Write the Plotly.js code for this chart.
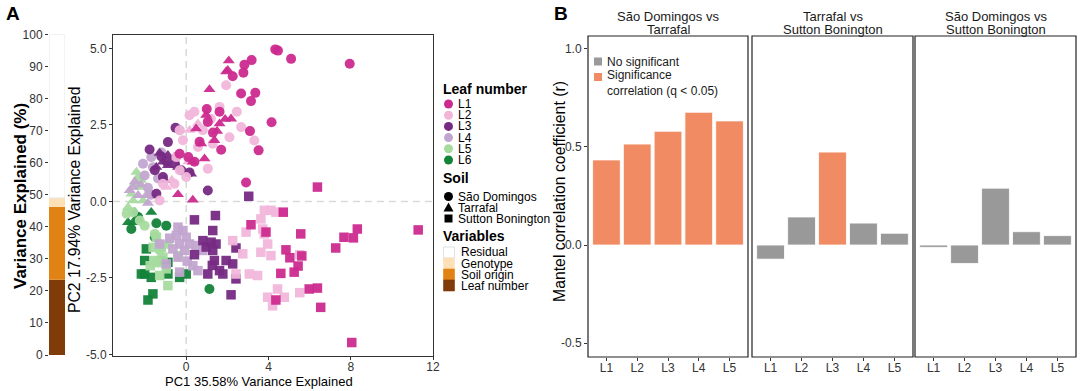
<!DOCTYPE html>
<html><head><meta charset="utf-8">
<script src="https://cdn.plot.ly/plotly-3.0.1.min.js"></script>
<style>html,body{margin:0;padding:0;background:#fff}</style>
</head><body><div id="chart" style="width:1080px;height:391px"></div>
<script>
// ---------- Panel A (left): variance explained ----------
const varCategories = ['Leaf number', 'Soil origin', 'Genotype', 'Residual'];
const varValues = [23.5, 22.7, 2.8, 51.0];
const varTicks = [0, 10, 20, 30, 40, 50, 60, 70, 80, 90, 100];

// ---------- Panel A (right): PCA scores ----------
const leafNames = ['L1', 'L2', 'L3', 'L4', 'L5', 'L6'];
const soilNames = ['São Domingos', 'Tarrafal', 'Sutton Bonington'];
const pcaXTicks = [0, 4, 8, 12];
const pcaYTicks = [-5, -2.5, 0, 2.5, 5];
const pcaYTickText = ['-5.0', '-2.5', '0.0', '2.5', '5.0'];
const pcaXTitle = 'PC1 35.58% Variance Explained';
const pcaYTitle = 'PC2 17.94% Variance Explained';

const L1_SD_pc1 = [4.33,4.46,5.10,7.95,3.18,2.83,2.78,2.26,2.67,3.36,3.15,4.15,1.00,1.62,3.10,3.52,1.70,2.91,-0.32,1.05,0.65,1.30,0.10,0.40];
const L1_SD_pc2 = [4.97,4.93,4.66,4.50,4.62,4.47,4.21,4.09,3.53,3.55,3.28,2.59,3.02,2.93,2.30,1.67,1.69,0.62,1.56,2.60,1.95,2.25,1.45,1.30];
const L1_T_pc1 = [2.07,2.02,1.94,1.13,1.89,2.18,1.62,0.48,0.73,0.89,0.32,-0.40,0.32,1.37,0.97,1.50];
const L1_T_pc2 = [4.60,4.29,4.24,3.66,2.69,2.70,2.54,2.38,1.89,1.40,1.29,0.23,0.05,2.00,2.82,2.30];
const L1_SB_pc1 = [6.38,4.72,11.28,8.32,8.13,7.67,7.27,5.57,3.88,3.15,4.85,5.04,5.44,5.25,4.60,5.62,5.98,6.38,6.54,4.36,8.05];
const L1_SB_pc2 = [0.47,-0.35,-0.93,-0.90,-1.19,-1.17,-1.52,-1.06,-1.00,-0.76,-1.58,-1.84,-2.11,-2.31,-2.35,-1.78,-2.86,-2.83,-3.46,-3.22,-4.61];

const L2_SD_pc1 = [1.94,1.62,2.46,0.16,0.40,2.67,3.31,2.10,1.05,-0.16,-0.48,0.00,-0.57,-1.13,-1.29,1.29,0.57,-0.32,0.81,-0.32,1.20];
const L2_SD_pc2 = [3.80,3.09,2.93,2.82,2.93,2.43,1.99,2.10,1.07,2.00,1.45,0.80,0.58,0.58,0.03,1.89,1.78,1.02,2.33,2.33,2.70];
const L2_T_pc1 = [0.16,-0.97,0.57,-0.70,0.10];
const L2_T_pc2 = [2.33,0.47,2.54,0.70,1.30];
const L2_SB_pc1 = [3.80,4.12,4.36,3.63,3.72,3.80,2.91,2.26,3.63,3.96,2.75,4.12,3.07,3.47,5.52,4.44,4.77,3.96,4.20,5.52,2.42];
const L2_SB_pc2 = [-0.29,-0.29,-0.35,-0.57,-0.90,-1.06,-1.00,-1.28,-1.66,-1.39,-1.71,-1.77,-2.37,-2.42,-1.74,-2.86,-3.13,-3.13,-3.41,-2.98,-2.37];

const L3_SD_pc1 = [-0.52,-0.89,-1.78,-1.21,-0.94,1.05,-1.45,-1.13,-0.24,0.16,-1.53,-0.55];
const L3_SD_pc2 = [2.41,1.94,1.70,1.47,1.29,0.36,0.25,0.80,1.02,0.95,1.02,1.23];
const L3_T_pc1 = [-1.29,-0.89,-1.13,-0.89,-1.45,-0.57,-0.40,0.24,-1.05];
const L3_T_pc2 = [1.58,1.51,1.29,1.18,1.12,1.45,1.12,0.90,0.70];
const L3_SB_pc1 = [3.04,0.40,1.42,1.29,0.40,0.81,1.21,1.45,0.97,1.29,2.42,1.37,1.94,2.26,1.62,1.05,1.78,2.42,2.18,1.27];
const L3_SB_pc2 = [0.17,-0.60,-0.46,-0.95,-1.74,-1.28,-1.33,-1.39,-1.49,-1.60,-1.52,-1.93,-1.93,-2.04,-2.26,-2.37,-2.37,-2.53,-3.05,-2.09];

const L4_SD_pc1 = [-1.70,-1.62,-2.02,-1.86,-1.70,-1.37,-0.32,-2.10,-1.20];
const L4_SD_pc2 = [1.45,1.12,0.85,0.45,0.22,0.75,2.33,1.23,1.60];
const L4_T_pc1 = [-2.75,-2.58,-2.34,-1.94,-2.50,-1.86,-2.20];
const L4_T_pc2 = [0.36,0.47,0.20,0.20,0.65,-0.05,0.55];
const L4_SB_pc1 = [-0.40,-0.16,-0.48,0.00,-0.32,0.16,-0.65,-0.08,0.48,-0.40,0.32,0.57,-0.32,-0.97,0.81,-1.29,-0.80,0.05];
const L4_SB_pc2 = [-0.84,-0.95,-1.11,-1.17,-1.39,-1.39,-1.55,-1.60,-1.44,-1.82,-2.10,-2.26,-2.31,-2.04,-1.60,-1.39,-1.20,-1.95];

const L5_SD_pc1 = [-2.26,-2.02,-2.58,-2.90,-1.53,-0.89,-0.40,-1.29];
const L5_SD_pc2 = [-0.62,-0.79,-0.35,-0.40,-1.06,-1.39,-1.77,-1.60];
const L5_T_pc1 = [-2.42,-2.34,-2.50,-2.26,-2.66,-2.58,-2.83,-2.10,-2.20];
const L5_T_pc2 = [0.96,0.80,0.58,0.47,0.25,0.03,-0.19,0.03,0.70];
const L5_SB_pc1 = [-1.45,-1.21,-1.13,-1.53,-0.97,-1.29,-0.89,-1.61,-1.40,-1.75];
const L5_SB_pc2 = [-1.17,-1.50,-1.82,-1.93,-2.20,-2.42,-2.75,-1.50,-2.00,-2.10];

const L6_SD_pc1 = [-2.67,-1.45,-0.97,-1.53,1.13,-2.34];
const L6_SD_pc2 = [-0.90,-0.71,-0.79,-1.17,-2.86,-0.51];
const L6_T_pc1 = [-2.83,-2.50,-2.58,-1.70,-2.30];
const L6_T_pc2 = [-0.68,-0.35,-0.68,-0.35,-0.60];
const L6_SB_pc1 = [-1.94,-2.02,-2.02,-1.70,-1.21,-0.89,-0.32,0.00,-1.62,-1.86,-2.18,-0.89];
const L6_SB_pc2 = [-1.55,-1.93,-2.37,-2.48,-1.93,-1.99,-2.48,-2.37,-3.02,-3.22,-2.37,-2.37];

// ---------- Panel B: Mantel correlations ----------
const comparisonsLine1 = ['São Domingos vs', 'Tarrafal vs', 'São Domingos vs'];
const comparisonsLine2 = ['Tarrafal', 'Sutton Bonington', 'Sutton Bonington'];
const mantelLeaves = ['L1', 'L2', 'L3', 'L4', 'L5'];
const mantel_SD_T = [0.434, 0.515, 0.580, 0.677, 0.633];
const mantel_T_SB = [-0.072, 0.143, 0.474, 0.112, 0.060];
const mantel_SD_SB = [-0.012, -0.094, 0.290, 0.068, 0.048];
const signif_SD_T = [true, true, true, true, true];
const signif_T_SB = [false, false, true, false, false];
const signif_SD_SB = [false, false, false, false, false];
const mantelYTicks = [-0.5, 0, 0.5, 1.0];
const mantelYTickText = ['-0.5', '0.0', '0.5', '1.0'];
const mantelLegend = ['No significant', 'Significance<br>correlation (q < 0.05)'];

// ---------- styling ----------
const W = 1080, H = 391;
const FONT = 'Liberation Sans, Arial, Helvetica, sans-serif';
const px = v => v / W;
const py = v => 1 - v / H;
const varColors = ['#7F3B08', '#E08214', '#FEE0B6', '#FFFFFF'];
const leafColors = ['#CC2A8E', '#F1B6DA', '#762A83', '#C2A5CF', '#A6DBA0', '#13833A'];
const soilSymbols = ['circle', 'triangle-up', 'square'];
const soilSizes = [10, 10.5, 9.5];
const sigColor = '#F08B63', nsColor = '#999999';

const pcaData = {
  L1: [[L1_SD_pc1, L1_SD_pc2], [L1_T_pc1, L1_T_pc2], [L1_SB_pc1, L1_SB_pc2]],
  L2: [[L2_SD_pc1, L2_SD_pc2], [L2_T_pc1, L2_T_pc2], [L2_SB_pc1, L2_SB_pc2]],
  L3: [[L3_SD_pc1, L3_SD_pc2], [L3_T_pc1, L3_T_pc2], [L3_SB_pc1, L3_SB_pc2]],
  L4: [[L4_SD_pc1, L4_SD_pc2], [L4_T_pc1, L4_T_pc2], [L4_SB_pc1, L4_SB_pc2]],
  L5: [[L5_SD_pc1, L5_SD_pc2], [L5_T_pc1, L5_T_pc2], [L5_SB_pc1, L5_SB_pc2]],
  L6: [[L6_SD_pc1, L6_SD_pc2], [L6_T_pc1, L6_T_pc2], [L6_SB_pc1, L6_SB_pc2]]
};

const traces = [];
// stacked variance bar
varCategories.forEach((c, i) => {
  traces.push({
    type: 'bar', x: ['A'], y: [varValues[i]], name: c, xaxis: 'x', yaxis: 'y',
    width: 1, marker: {color: varColors[i], line: {color: i === 3 ? '#E6E6E6' : varColors[i], width: i === 3 ? 1 : 0}},
    showlegend: false, hoverinfo: 'skip'
  });
});
// PCA scatter (drawn L6 -> L1 so L1 on top)
for (let li = leafNames.length - 1; li >= 0; li--) {
  const lf = leafNames[li];
  for (let si = 2; si >= 0; si--) {
    const d = pcaData[lf][si];
    traces.push({
      type: 'scatter', mode: 'markers', x: d[0], y: d[1], xaxis: 'x2', yaxis: 'y2',
      name: lf + ' ' + soilNames[si], showlegend: false, hoverinfo: 'skip',
      marker: {color: leafColors[li], symbol: soilSymbols[si], size: soilSizes[si], opacity: 0.95, line: {width: 0}}
    });
  }
}
// Mantel bars
const mantelSets = [[mantel_SD_T, signif_SD_T], [mantel_T_SB, signif_T_SB], [mantel_SD_SB, signif_SD_SB]];
mantelSets.forEach((s, k) => {
  traces.push({
    type: 'bar', x: mantelLeaves, y: s[0], xaxis: 'x' + (k + 3), yaxis: 'y3', width: 0.9,
    marker: {color: s[1].map(b => b ? sigColor : nsColor), line: {color: '#FFFFFF', width: 0.8}},
    showlegend: false, hoverinfo: 'skip'
  });
});

const tickFont = {family: FONT, size: 12, color: '#333333'};
const facetX = [[588, 748], [752, 913], [915, 1076]];
const layout = {
  width: W, height: H, margin: {l: 0, r: 0, t: 0, b: 0},
  paper_bgcolor: '#FFFFFF', plot_bgcolor: 'rgba(0,0,0,0)',
  barmode: 'relative', showlegend: false, font: {family: FONT, color: '#000'},
  xaxis: {domain: [px(49), px(65)], range: [-0.5, 0.5], visible: false, fixedrange: true},
  yaxis: {domain: [py(355), py(34.5)], range: [0, 100], tickvals: varTicks, ticks: 'outside', ticklen: 3,
          tickcolor: '#333', showgrid: false, zeroline: false, showline: false, tickfont: tickFont, anchor: 'x'},
  xaxis2: {domain: [px(113), px(433)], range: [-3.56, 12.0], tickvals: pcaXTicks, ticks: 'outside', ticklen: 3,
           tickcolor: '#333', showgrid: false, zeroline: false, showline: true, linecolor: '#333', linewidth: 1,
           mirror: true, tickfont: tickFont, anchor: 'y2', ticklabelstandoff: -3},
  yaxis2: {domain: [py(356), py(35)], range: [-5.05, 5.44], tickvals: pcaYTicks, ticktext: pcaYTickText,
           ticks: 'outside', ticklen: 3, tickcolor: '#333', showgrid: false, zeroline: false, showline: true,
           linecolor: '#333', linewidth: 1, mirror: true, tickfont: tickFont, anchor: 'x2'},
  yaxis3: {domain: [py(357), py(36)], range: [-0.571, 1.066], tickvals: mantelYTicks, ticktext: mantelYTickText,
           ticks: 'outside', ticklen: 3, tickcolor: '#333', showgrid: false, zeroline: false, showline: false,
           tickfont: tickFont, anchor: 'x3'},
  shapes: [], annotations: []
};
facetX.forEach((f, k) => {
  layout['xaxis' + (k + 3)] = {domain: [px(f[0]), px(f[1])], range: [-0.6, 4.6], type: 'category',
    ticks: 'outside', ticklen: 3, tickcolor: '#333', showgrid: false, zeroline: false, showline: false,
    tickfont: tickFont, anchor: 'y3', ticklabelstandoff: -3};
  layout.shapes.push({type: 'rect', xref: 'paper', yref: 'paper', x0: px(f[0]), x1: px(f[1]), y0: py(357), y1: py(36),
    line: {color: '#222', width: 1.2}, fillcolor: 'rgba(0,0,0,0)'});
  [[comparisonsLine1[k], 17], [comparisonsLine2[k], 29]].forEach(t => {
    layout.annotations.push({xref: 'paper', yref: 'paper', x: px((f[0] + f[1]) / 2), y: py(t[1]), text: t[0],
      showarrow: false, xanchor: 'center', yanchor: 'middle', borderpad: 0, font: {family: FONT, size: 13, color: '#1a1a1a'}});
  });
});
// dashed zero lines in PCA
layout.shapes.push({type: 'line', xref: 'x2', yref: 'y2 domain', x0: 0, x1: 0, y0: 0, y1: 1, layer: 'below',
  line: {color: '#D9D9D9', width: 1.5, dash: '7px,5px'}});
layout.shapes.push({type: 'line', xref: 'x2 domain', yref: 'y2', x0: 0, x1: 1, y0: 0, y1: 0, layer: 'below',
  line: {color: '#D9D9D9', width: 1.5, dash: '7px,5px'}});

function ann(text, x, y, opts) {
  layout.annotations.push(Object.assign({xref: 'paper', yref: 'paper', x: px(x), y: py(y), text: text, showarrow: false,
    xanchor: 'left', yanchor: 'middle', borderpad: 0, font: {family: FONT, size: 12, color: '#000'}}, opts || {}));
}
// panel labels
ann('<b>A</b>', 5, 13, {font: {family: FONT, size: 19, color: '#000'}});
ann('<b>B</b>', 553, 13, {font: {family: FONT, size: 19, color: '#000'}});
// axis titles
ann('<b>Variance Explained (%)</b>', 20, 196, {xanchor: 'center', textangle: -90, font: {family: FONT, size: 17, color: '#000'}});
ann(pcaYTitle, 74, 200, {xanchor: 'center', textangle: -90, font: {family: FONT, size: 15.7, color: '#000'}});
ann(pcaXTitle, 259, 381, {xanchor: 'center', font: {family: FONT, size: 13, color: '#000'}});
ann('Mantel correlation coefficient (r)', 559, 192, {xanchor: 'center', textangle: -90, font: {family: FONT, size: 15.8, color: '#000'}});

// legend A: Leaf number
ann('<b>Leaf number</b>', 442, 89, {font: {family: FONT, size: 14, color: '#000'}});
const leafRowY = [104, 115.2, 126.4, 137.6, 148.8, 160];
leafNames.forEach((l, i) => {
  layout.shapes.push({type: 'circle', xref: 'paper', yref: 'paper', xsizemode: 'pixel', ysizemode: 'pixel',
    xanchor: px(448.5), yanchor: py(leafRowY[i]), x0: -4.5, x1: 4.5, y0: -4.5, y1: 4.5,
    fillcolor: leafColors[i], line: {width: 0}});
  ann(l, 457, leafRowY[i]);
});
ann('<b>Soil</b>', 442, 178, {font: {family: FONT, size: 14, color: '#000'}});
const soilRowY = [196.5, 207.5, 218.5];
layout.shapes.push({type: 'circle', xref: 'paper', yref: 'paper', xsizemode: 'pixel', ysizemode: 'pixel',
  xanchor: px(448.5), yanchor: py(soilRowY[0]), x0: -4.5, x1: 4.5, y0: -4.5, y1: 4.5, fillcolor: '#000', line: {width: 0}});
layout.shapes.push({type: 'path', xref: 'paper', yref: 'paper', xsizemode: 'pixel', ysizemode: 'pixel',
  xanchor: px(448.5), yanchor: py(soilRowY[1]), path: 'M-5,-4L5,-4L0,5Z', fillcolor: '#000', line: {width: 0}});
layout.shapes.push({type: 'rect', xref: 'paper', yref: 'paper', xsizemode: 'pixel', ysizemode: 'pixel',
  xanchor: px(448.5), yanchor: py(soilRowY[2]), x0: -4, x1: 4, y0: -4, y1: 4, fillcolor: '#000', line: {width: 0}});
soilNames.forEach((s, i) => ann(s, 457, soilRowY[i]));
ann('<b>Variables</b>', 442, 236, {font: {family: FONT, size: 14, color: '#000'}});
const varRowY = [252.5, 263.5, 274.5, 285.5];
const varLegendOrder = [3, 2, 1, 0];
varLegendOrder.forEach((vi, r) => {
  layout.shapes.push({type: 'rect', xref: 'paper', yref: 'paper', x0: px(443.5), x1: px(454.5),
    y0: py(varRowY[r] + 5.5), y1: py(varRowY[r] - 5.5), fillcolor: varColors[vi], line: {color: vi === 3 ? '#CCCCCC' : varColors[vi], width: 0.6}});
  ann(varCategories[vi], 460, varRowY[r]);
});

// legend B
layout.shapes.push({type: 'rect', xref: 'paper', yref: 'paper', x0: px(594), x1: px(602), y0: py(65.5), y1: py(57.5),
  fillcolor: nsColor, line: {width: 0}});
layout.shapes.push({type: 'rect', xref: 'paper', yref: 'paper', x0: px(594), x1: px(602), y0: py(81), y1: py(73),
  fillcolor: sigColor, line: {width: 0}});
ann(mantelLegend[0], 606, 62, {font: {family: FONT, size: 12, color: '#1a1a1a'}});
ann(mantelLegend[1], 606, 83.5, {font: {family: FONT, size: 12, color: '#1a1a1a'}, align: 'left'});

Plotly.newPlot('chart', traces, layout, {staticPlot: true, displayModeBar: false});
</script></body></html>
